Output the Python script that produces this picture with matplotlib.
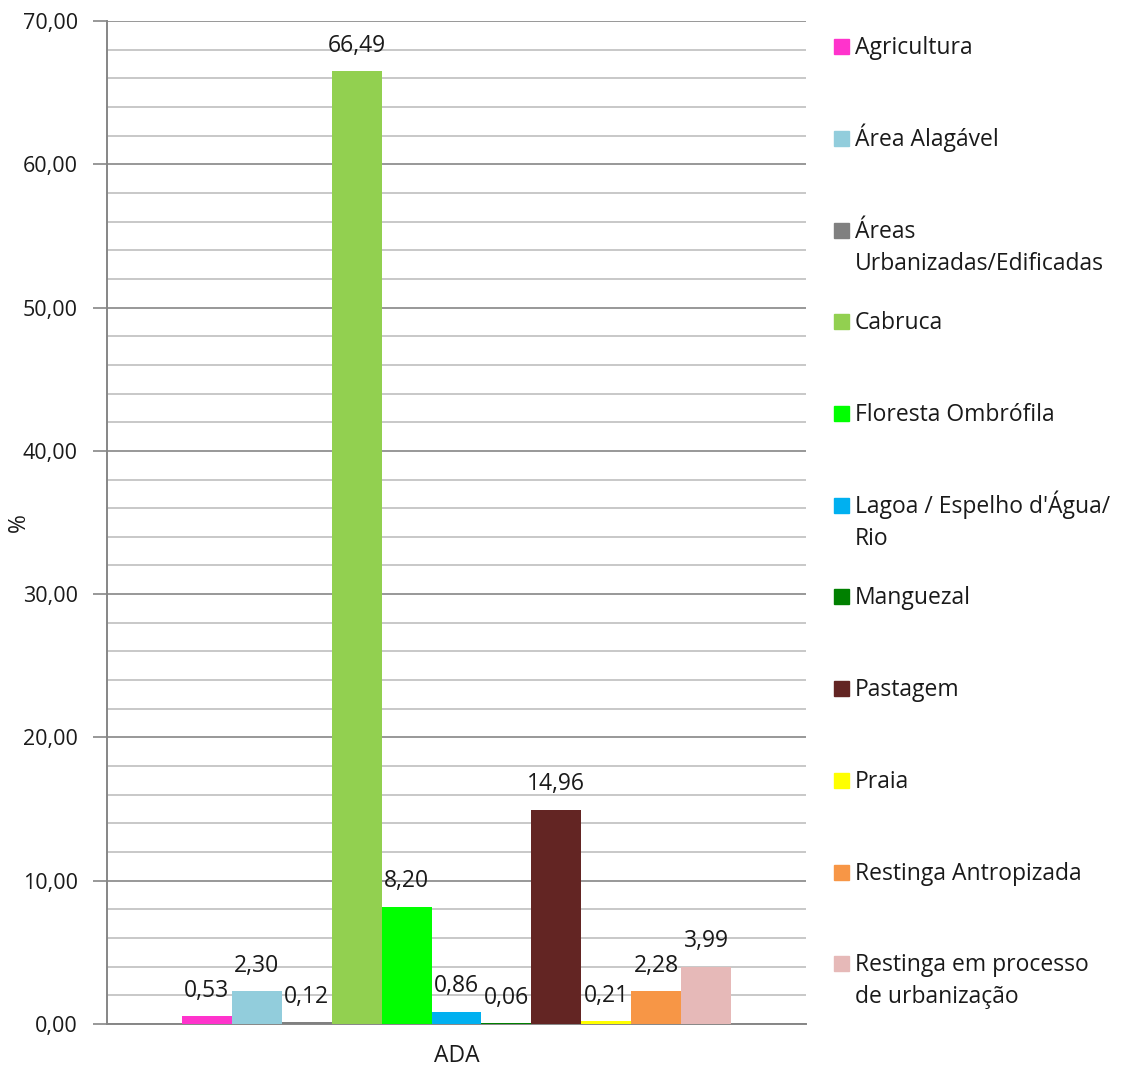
import matplotlib
matplotlib.use("Agg")
import matplotlib.pyplot as plt
from matplotlib.patches import Rectangle
from matplotlib.ticker import MultipleLocator, FuncFormatter

plt.rcParams['font.family'] = ['Open Sans', 'DejaVu Sans']

categories = ["ADA"]
series_names = [
    "Agricultura",
    "Área Alagável",
    "Áreas\nUrbanizadas/Edificadas",
    "Cabruca",
    "Floresta Ombrófila",
    "Lagoa / Espelho d'Água/\nRio",
    "Manguezal",
    "Pastagem",
    "Praia",
    "Restinga Antropizada",
    "Restinga em processo\nde urbanização",
]
values = [0.53, 2.30, 0.12, 66.49, 8.20, 0.86, 0.06, 14.96, 0.21, 2.28, 3.99]
colors = ["#FF33CC", "#92CDDC", "#808080", "#92D050", "#00FF00", "#00B0F0",
          "#008000", "#632523", "#FFFF00", "#F79646", "#E6B9B8"]

FS = 16.5
TXT = "#1a1a1a"

fig = plt.figure(figsize=(11.24, 10.68), dpi=100)
ax = fig.add_axes([107 / 1124, 1 - 1024 / 1068, 699 / 1124, 1003 / 1068])

n = len(values)
bar_w = 0.0714
for i, (v, c) in enumerate(zip(values, colors)):
    x = (i - (n - 1) / 2) * bar_w
    ax.bar(x, v, width=bar_w, color=c, zorder=3)
    ax.annotate(f"{v:.2f}".replace(".", ","), (x, v), xytext=(0, 14),
                textcoords="offset points", ha="center", va="baseline",
                fontsize=FS, color=TXT, zorder=4)

ax.set_xlim(-0.5, 0.5)
ax.set_ylim(0, 70)
ax.set_xticks([0])
ax.set_xticklabels(categories, fontsize=FS, color=TXT)
ax.tick_params(axis="x", length=0, pad=14.5)

ax.yaxis.set_major_locator(MultipleLocator(10))
ax.yaxis.set_minor_locator(MultipleLocator(2))
ax.yaxis.set_major_formatter(FuncFormatter(lambda v, p: f"{v:.2f}".replace(".", ",")))
ax.tick_params(axis="y", which="major", length=10, width=1.2, color="#868686",
               labelsize=15.5, labelcolor=TXT, pad=11)
ax.tick_params(axis="y", which="minor", length=0)
ax.grid(axis="y", which="major", color="#868686", linewidth=1.2, zorder=0)
ax.grid(axis="y", which="minor", color="#BFBFBF", linewidth=1.2, zorder=0)

for side in ("top", "right"):
    ax.spines[side].set_visible(False)
for side in ("left", "bottom"):
    ax.spines[side].set_color("#868686")
    ax.spines[side].set_linewidth(1.4)

ax.set_ylabel("%", fontsize=FS, color=TXT)
ax.yaxis.set_label_coords((31 - 107) / 699, 0.5)

# Legend drawn as a column of swatches with labels, one line at a time
W, H = 1124, 1068
for i, (name, c) in enumerate(zip(series_names, colors)):
    yc = 46.7 + i * 91.7
    fig.patches.append(Rectangle((834 / W, 1 - (yc + 7.5) / H), 15 / W, 15 / H,
                                 transform=fig.transFigure, color=c))
    for k, line in enumerate(name.split("\n")):
        fig.text(855 / W, 1 - (yc + 7.5 + 32 * k) / H, line, ha="left",
                 va="baseline", fontsize=FS, color=TXT)

fig.savefig("out.png", dpi=100)
